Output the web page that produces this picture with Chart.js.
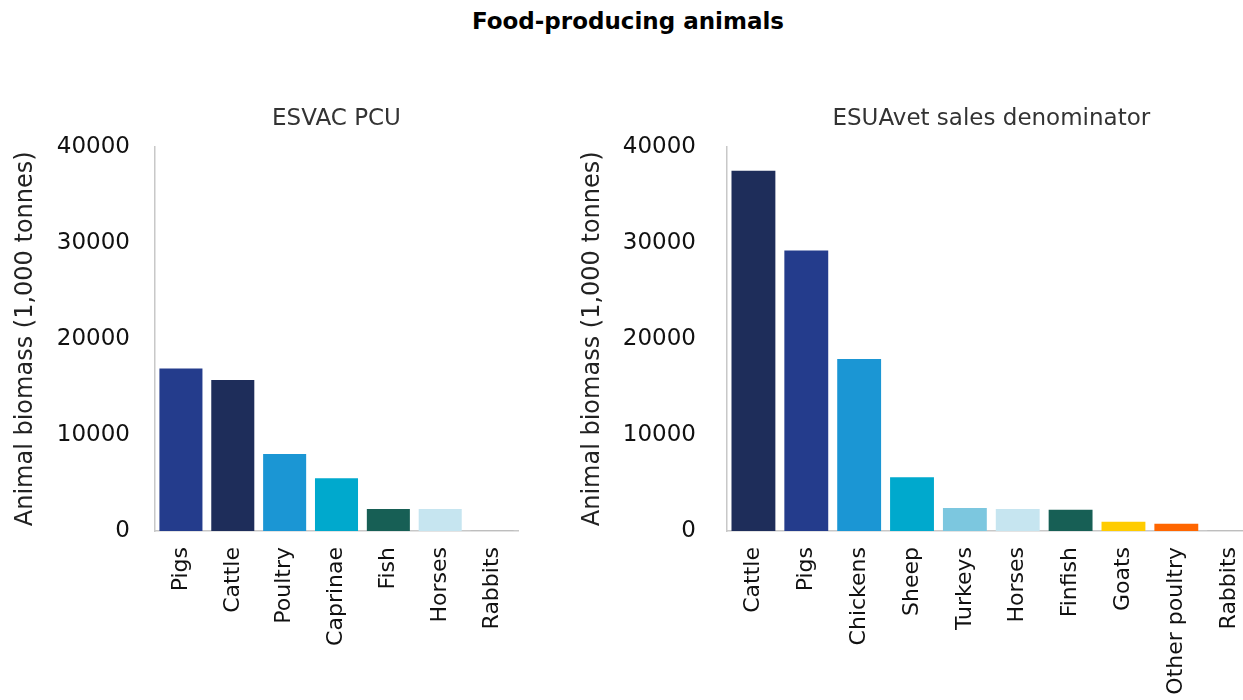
<!DOCTYPE html>
<html>
<head>
<meta charset="utf-8">
<script src="https://cdn.jsdelivr.net/npm/chart.js@4.4.1/dist/chart.umd.min.js"></script>
<style>
  html, body { margin: 0; padding: 0; width: 1243px; height: 700px; overflow: hidden; background: #ffffff; }
  #mainTitle {
    position: absolute; top: 8px; left: 0; width: 1256px; text-align: center;
    font-family: "DejaVu Sans", Verdana, sans-serif; font-weight: bold; font-size: 23px; color: #000;
  }
  canvas { position: absolute; top: 0; }
  #pcuChart { left: 0; }
  #esuChart { left: 559px; }
</style>
</head>
<body>
<div id="mainTitle">Food-producing animals</div>
<canvas id="pcuChart" width="560" height="700"></canvas>
<canvas id="esuChart" width="705" height="700"></canvas>
<script>
// Animal biomass, in 1,000 tonnes
const pcuCategories = ['Pigs', 'Cattle', 'Poultry', 'Caprinae', 'Fish', 'Horses', 'Rabbits'];
const pcuValues = [16900, 15700, 8000, 5500, 2300, 2300, 30];
const esuCategories = ['Cattle', 'Pigs', 'Chickens', 'Sheep', 'Turkeys', 'Horses', 'Finfish', 'Goats', 'Other poultry', 'Rabbits'];
const esuValues = [37500, 29200, 17900, 5600, 2400, 2300, 2200, 950, 750, 30];
const yTicks = [0, 10000, 20000, 30000, 40000];

// one colour per species, shared between both panels
const speciesColours = {
  'Pigs': '#243c8c',
  'Cattle': '#1e2d5a',
  'Poultry': '#1b96d4',
  'Chickens': '#1b96d4',
  'Caprinae': '#00a9cd',
  'Sheep': '#00a9cd',
  'Fish': '#175f55',
  'Finfish': '#175f55',
  'Horses': '#c6e5f0',
  'Turkeys': '#7cc7df',
  'Goats': '#ffcc00',
  'Other poultry': '#ff6600',
  'Rabbits': '#a0a0a0'
};

const FONT = '"DejaVu Sans", Verdana, sans-serif';

function makeChart(canvasId, title, categories, values, geom) {
  return new Chart(document.getElementById(canvasId), {
    type: 'bar',
    data: {
      labels: categories,
      datasets: [{
        data: values,
        backgroundColor: categories.map(c => speciesColours[c]),
        borderWidth: 0,
        barPercentage: 0.83,
        categoryPercentage: 1.0
      }]
    },
    options: {
      responsive: false,
      animation: false,
      devicePixelRatio: 1,
      layout: { padding: { left: 0, right: geom.rightPad, top: 0, bottom: 0 } },
      plugins: {
        legend: { display: false },
        tooltip: { enabled: false },
        title: {
          display: true,
          fullSize: false,
          text: title,
          color: '#333333',
          font: { family: FONT, size: 23, weight: 'normal', lineHeight: 1.2 },
          padding: { top: 105, bottom: 14 }
        }
      },
      scales: {
        x: {
          grid: { display: false },
          border: { display: true, color: '#c8c8c8', width: 1.5 },
          ticks: {
            autoSkip: false,
            minRotation: 90,
            maxRotation: 90,
            padding: 8,
            color: '#111111',
            font: { family: FONT, size: 22 }
          },
          afterFit(scale) { scale.height = 169; }
        },
        y: {
          min: 0,
          max: 40000,
          grid: { display: false },
          border: { display: true, color: '#c8c8c8', width: 1.5 },
          afterBuildTicks(scale) { scale.ticks = yTicks.map(v => ({ value: v })); },
          ticks: {
            padding: geom.tickPad,
            color: '#111111',
            font: { family: FONT, size: 23 },
            callback: v => String(v)
          },
          title: {
            display: true,
            text: 'Animal biomass (1,000 tonnes)',
            color: '#222222',
            font: { family: FONT, size: 24, weight: 'normal', lineHeight: 1.2 },
            padding: { top: geom.titlePad, bottom: 0 }
          },
          afterFit(scale) { scale.width = geom.yWidth; }
        }
      }
    }
  });
}

makeChart('pcuChart', 'ESVAC PCU', pcuCategories, pcuValues,
  { yWidth: 155, rightPad: 42, tickPad: 17, titlePad: 11 });
makeChart('esuChart', 'ESUAvet sales denominator', esuCategories, esuValues,
  { yWidth: 168, rightPad: 0, tickPad: 23, titlePad: 19 });
</script>
</body>
</html>
